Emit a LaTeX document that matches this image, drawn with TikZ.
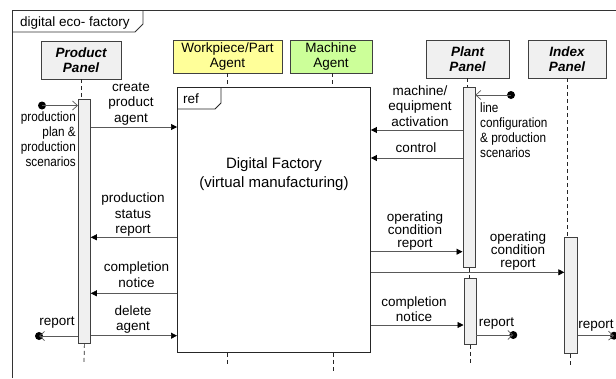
\documentclass[tikz,border=0pt]{standalone}
\usepackage{fontspec}
\setmainfont{Liberation Sans}
\newfontfamily\narrowfont[FakeStretch=0.87]{Liberation Sans}
\usetikzlibrary{arrows.meta}
\newcommand{\lfont}{\fontsize{13.5}{15.5}\selectfont}
\newcommand{\nfont}{\narrowfont\fontsize{13.5}{15}\selectfont}
\tikzset{
  frm/.style={draw=black!80, line width=0.8pt},
  head/.style={draw=black!75, line width=0.8pt, inner sep=0pt, align=center, font=\lfont},
  bar/.style={draw=black!75, fill=black!6, line width=0.8pt, inner sep=0pt, minimum width=12pt},
  life/.style={draw=black!85, dash pattern=on 4pt off 3pt, line width=0.7pt},
  msg/.style={draw=black!65, line width=0.7pt},
  sync/.style={msg, -{Triangle[length=6pt,width=6pt,color=black]}},
  open/.style={msg, -{Straight Barb[length=5pt,width=9pt,color=black!65]}},
  dot/.style={circle, fill=black, inner sep=0pt, minimum size=8pt},
  lbl/.style={font=\lfont, align=center, inner sep=0pt, anchor=base},
}
\begin{document}
\begin{tikzpicture}[x=1pt,y=-1pt]
\useasboundingbox[fill=white] (0,0) rectangle (616,378);
% frame
\coordinate (fbl) at (12,378);
\coordinate (ftl) at (12,10);
\coordinate (ftr) at (616,10);
\draw[frm] (fbl) -- (ftl) -- (ftr);
\coordinate (t1) at (12,32);
\coordinate (t2) at (135,32);
\coordinate (t3) at (143,24);
\coordinate (t4) at (143,10);
\draw[frm] (t1) -- (t2) -- (t3) -- (t4);
\node[font=\lfont, anchor=base west, inner sep=0pt] (title) at (20,26) {digital eco- factory};

% heads
\node[head, fill=black!6, minimum width=80pt, minimum height=38pt, font=\lfont\bfseries\itshape] (pp) at (81,60) {Product\\Panel};
\node[head, fill={rgb,255:red,255;green,255;blue,153}, minimum width=109pt, minimum height=33pt] (wp) at (227.5,56.5) {Workpiece/Part\\Agent};
\node[head, fill={rgb,255:red,204;green,255;blue,153}, minimum width=82pt, minimum height=33pt] (ma) at (331,56.5) {Machine\\Agent};
\node[head, fill=black!6, minimum width=83pt, minimum height=38pt, font=\lfont\bfseries\itshape] (pl) at (467.5,59) {Plant\\Panel};
\node[head, fill=black!6, minimum width=78pt, minimum height=38pt, font=\lfont\bfseries\itshape] (ip) at (567,59) {Index\\Panel};

% ref frame
\node[draw=black!85, line width=0.9pt, minimum width=193pt, minimum height=265pt, anchor=north west, inner sep=0pt] (ref) at (177,87) {};
\coordinate (r1) at (177,109);
\coordinate (r2) at (215,109);
\coordinate (r3) at (221,103);
\coordinate (r4) at (221,87);
\draw[draw=black!85, line width=0.8pt] (r1) -- (r2) -- (r3) -- (r4);
\node[font=\lfont, anchor=base west, inner sep=0pt] (reft) at (183,103) {ref};
\node[font=\fontsize{15}{18.5}\selectfont, align=center, inner sep=0pt] (df) at (274,174) {Digital Factory\\(virtual manufacturing)};

% bars
\node[bar, minimum height=244pt, anchor=north west] (pbar) at (78,99) {};
\node[bar, minimum height=180pt, anchor=north west] (plbar1) at (462.5,87) {};
\node[bar, minimum height=66pt, anchor=north west] (plbar2) at (463.5,278) {};
\node[bar, minimum height=116pt, anchor=north west, minimum width=12.5pt] (ibar) at (564.3,237.3) {};

% lifelines
\draw[life] (pp.south) -- (pbar.north -| pp.south);
\coordinate (pend) at (84,363);
\draw[life] (pbar.south) -- (pend);
\draw[life] (wp.south -| 227,0) -- (ref.north -| 227,0);
\coordinate (wend) at (227,365);
\draw[life] (ref.south -| wend) -- (wend);
\draw[life] (ma.south -| 332,0) -- (ref.north -| 332,0);
\coordinate (mend) at (333,372);
\draw[life] (ref.south -| mend) -- (mend);
\draw[life] (pl.south) -- (plbar1.north -| pl.south);
\draw[life] (plbar1.south -| 469,0) -- (plbar2.north -| 469,0);
\coordinate (plend) at (470,365);
\draw[life] (plbar2.south -| plend) -- (plend);
\draw[life] (ip.south) -- (ibar.north -| ip.south);
\coordinate (iend) at (570,365);
\draw[life] (ibar.south -| iend) -- (iend);

% found messages
\node[dot] (d1) at (42,105.5) {};
\draw[open] (d1.center) -- (pbar.west |- d1.center);
\node[font=\nfont, align=right, inner sep=0pt, anchor=base east] (l1) at (76,166.5) {production\\plan \&\\production\\scenarios};
\node[dot] (d2) at (511,95) {};
\draw[open] (d2.center) -- (plbar1.east |- d2.center);
\node[font=\nfont, align=left, inner sep=0pt, anchor=base west] (l2) at (480,157) {line\\configuration\\\& production\\scenarios};

% messages
\draw[sync] (pbar.east |- 0,127) -- (ref.west |- 0,127);
\node[lbl] (l3) at (131,122) {create\\product\\agent};
\draw[sync] (plbar1.west |- 0,130) -- (ref.east |- 0,130);
\node[lbl] (l4) at (420,126) {machine/\\equipment\\activation};
\draw[sync] (plbar1.west |- 0,158) -- (ref.east |- 0,158);
\node[lbl] (l5) at (416,152.5) {control};
\draw[sync] (ref.west |- 0,237.3) -- (pbar.east |- 0,237.3);
\node[lbl] (l6) at (133,233.5) {production\\status\\report};
\draw[sync] (ref.west |- 0,293.3) -- (pbar.east |- 0,293.3);
\node[lbl] (l7) at (136.5,287) {completion\\notice};
\draw[sync] (pbar.east |- 0,335.7) -- (ref.west |- 0,335.7);
\node[lbl] (l8) at (133,330.5) {delete\\agent};
\node[dot] (d3) at (39,336) {};
\draw[open] (pbar.west |- d3.center) -- (d3.center);
\node[lbl] (l9) at (57,325.5) {report};
\draw[sync] (ref.east |- 0,251.7) -- (plbar1.west |- 0,251.7);
\node[lbl, font=\fontsize{13.5}{13}\selectfont] (l10) at (415,247) {operating\\condition\\report};
\draw[sync] (ref.east |- 0,272.3) -- (ibar.west |- 0,272.3);
\node[lbl, font=\fontsize{13.5}{13}\selectfont] (l11) at (518,267.5) {operating\\condition\\report};
\draw[sync] (ref.east |- 0,325) -- (plbar2.west |- 0,325);
\node[lbl] (l12) at (414,321.5) {completion\\notice};
\node[dot] (d4) at (513.3,335) {};
\draw[open] (plbar2.east |- d4.center) -- (d4.center);
\node[lbl] (l13) at (496.5,326.5) {report};
\node[dot] (d5) at (614,335.7) {};
\draw[open] (ibar.east |- d5.center) -- (d5.center);
\node[lbl] (l14) at (596,328) {report};
\end{tikzpicture}
\end{document}
